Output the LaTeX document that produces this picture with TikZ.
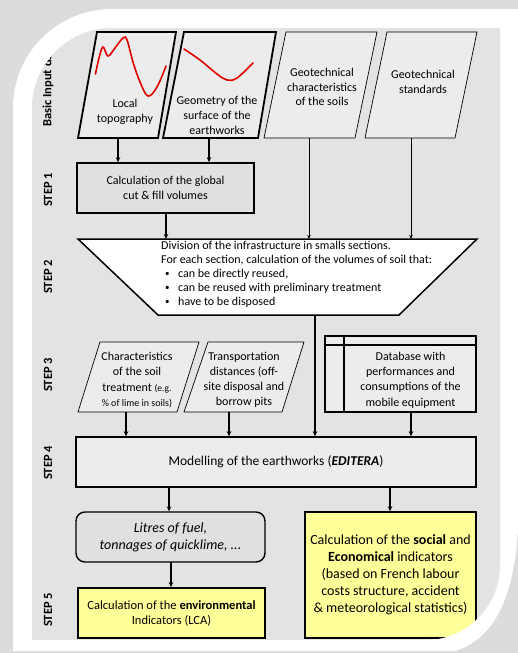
\documentclass[tikz,border=0pt]{standalone}
\usepackage{fontspec}
\usepackage{graphicx}
\setmainfont{Carlito}
\usetikzlibrary{arrows.meta}
\definecolor{outerbg}{HTML}{DCDCDC}
\definecolor{innerbg}{HTML}{E3E3E3}
\definecolor{boxfill}{HTML}{ECECEC}
\definecolor{boxdark}{HTML}{E0E0E0}
\definecolor{ylw}{HTML}{FFFF99}
\definecolor{redline}{HTML}{E00000}
\newcommand{\smallbul}{\hspace*{4pt}\makebox[13pt][l]{\raisebox{0.5pt}{\scalebox{0.75}{\textbullet}}}}
\begin{document}
\begin{tikzpicture}[x=1pt,y=-1pt,
  txt/.style={inner sep=0pt, align=center, font=\fontsize{12}{14.8}\selectfont},
  steplbl/.style={rotate=90, inner sep=0pt, font=\bfseries\fontsize{12.5}{14}\selectfont},
  thickbox/.style={draw=black, line width=1.7pt, inner sep=0pt, align=center},
  thinshape/.style={draw=black, line width=0.7pt},
  thickshape/.style={draw=black, line width=1.8pt},
  arr/.style={line width=1.4pt, -{Stealth[length=5pt,width=4.5pt]}},
  thinarr/.style={line width=0.6pt, -{Stealth[length=4pt,width=3.5pt]}},
  redcurve/.style={draw=redline, line width=1.6pt, line cap=round}]
\useasboundingbox (0,0) rectangle (518,653);
% frame
\fill[outerbg] (0,0) rectangle (518,653);
\fill[white] (13,108) .. controls (13,53.3) and (57.3,9) .. (112,9) -- (518,9) -- (518,530)
  .. controls (514,600) and (492,640) .. (455,651) -- (13,651) -- cycle;
\def\innerpath{(32,108) .. controls (32,63.8) and (67.8,28) .. (112,28) -- (500,28) -- (500,565)
  .. controls (500,606.4) and (466.4,640) .. (425,640) -- (32,640) -- cycle}
\fill[innerbg] \innerpath;
\begin{scope}
\clip \innerpath;
% step labels
\node[steplbl, anchor=west] (lbl0) at (48,127) {Basic Input data};
\node[steplbl] (lbl1) at (48,190) {STEP 1};
\node[steplbl] (lbl2) at (48,277) {STEP 2};
\node[steplbl] (lbl3) at (48,375) {STEP 3};
\node[steplbl] (lbl4) at (48,463) {STEP 4};
\node[steplbl] (lbl5) at (48,610) {STEP 5};
% basic input parallelograms
\filldraw[thickshape, fill=boxfill] (78,138) -- (158,138) -- (176,32) -- (97,32) -- cycle;
\filldraw[thickshape, fill=boxfill] (163,138) -- (258,138) -- (276,32) -- (184,32) -- cycle;
\filldraw[thinshape, fill=boxfill] (264,138) -- (355,138) -- (377,32) -- (286,32) -- cycle;
\filldraw[thinshape, fill=boxfill] (365,138) -- (455,138) -- (477,32) -- (387,32) -- cycle;
\draw[redcurve] plot[smooth, tension=0.6] coordinates {(95.5,74) (99,58) (103,47) (108,56) (115,48) (123,38) (127,40) (133,62) (140,82) (148,96) (157,87) (166,66)};
\draw[redcurve] plot[smooth, tension=0.6] coordinates {(184,49) (200,60) (217,74) (227,80) (237,78) (253,63)};
\node[txt] (p1t) at (125,112) {Local\\topography};
\node[txt] (p2t) at (217,115.5) {Geometry of the\\surface of the\\earthworks};
\node[txt] (p3t) at (322,87) {Geotechnical\\characteristics\\of the soils};
\node[txt] (p4t) at (423,82) {Geotechnical\\standards};
\coordinate (p1b) at (118,138);
\coordinate (p2b) at (209,138);
\coordinate (p3b) at (309,138);
\coordinate (p4b) at (411,138);
% step 1
\node[thickbox, fill=boxdark, minimum width=177pt, minimum height=50pt, font=\fontsize{12}{14.5}\selectfont] (s1) at (165.5,188) {Calculation of the global\\cut \& fill volumes};
\coordinate (s1b) at (166,213);
% step 2 trapezoid
\filldraw[draw=black, line width=1.5pt, fill=white] (78,239) -- (477,239) -- (399,315) -- (158,315) -- cycle;
\coordinate (t2t) at (0,239);
\coordinate (t2b) at (315,315);
\node[inner sep=0pt, anchor=north west, align=left, font=\fontsize{12}{14}\selectfont] (t2) at (161,240.5)
 {Division of the infrastructure in smalls sections.\\
  For each section, calculation of the volumes of soil that:\\
  \smallbul can be directly reused,\\
  \smallbul can be reused with preliminary treatment\\
  \smallbul have to be disposed};
% step 3
\filldraw[thinshape, fill=boxfill] (78,412) -- (177,412) -- (199,342) -- (100,342) -- cycle;
\filldraw[thinshape, fill=boxfill] (184,412) -- (282,412) -- (304,342) -- (208,342) -- cycle;
\node[txt, font=\fontsize{12}{15.2}\selectfont] (a3) at (137,380) {Characteristics\\of the soil\\treatment {\fontsize{9.5}{11}\selectfont(e.g.}\\{\fontsize{10}{12}\selectfont\% of lime in soils)}};
\node[txt, font=\fontsize{12}{15.2}\selectfont] (b3) at (244,380) {Transportation\\distances (off-\\site disposal and\\borrow pits};
\node[thickbox, fill=boxfill, minimum width=151pt, minimum height=76pt, line width=1.6pt] (db) at (400.5,374) {};
\draw[line width=1.4pt] (344,336) -- (344,412);
\draw[line width=1.4pt] (325,345) -- (476,345);
\node[txt, font=\fontsize{12}{15.2}\selectfont] (dbt) at (410.5,380) {Database with\\performances and\\consumptions of the\\mobile equipment};
\coordinate (a3b) at (126,412);
\coordinate (b3b) at (229,412);
\coordinate (dbb) at (411,412);
% step 4
\node[thickbox, fill=boxfill, minimum width=400pt, minimum height=50pt, line width=1.6pt, font=\fontsize{13.5}{16}\selectfont] (s4) at (276,462) {Modelling of the earthworks (\textbf{\textit{EDITERA}})};
\coordinate (s4l) at (169,487);
\coordinate (s4r) at (390,487);
% step 5
\node[thickbox, fill=boxdark, rounded corners=9pt, minimum width=189pt, minimum height=50pt, line width=1.4pt, font=\itshape\fontsize{14}{17}\selectfont] (lit) at (170.5,537) {Litres of fuel,\\tonnages of quicklime, ...};
\coordinate (litb) at (171,562);
\node[thickbox, fill=ylw, minimum width=187pt, minimum height=50pt, line width=1.6pt, font=\fontsize{12.5}{15}\selectfont] (env) at (171.5,613) {Calculation of the \textbf{environmental}\\Indicators (LCA)};
\node[thickbox, fill=ylw, minimum width=171pt, minimum height=126pt, line width=1.6pt, font=\fontsize{14}{17}\selectfont] (soc) at (390.5,575) {Calculation of the \textbf{social} and\\\textbf{Economical} indicators\\(based on French labour\\costs structure, accident\\\& meteorological statistics)};
% connectors
\draw[arr] (p1b) -- (p1b |- s1.north);
\draw[arr] (p2b) -- (p2b |- s1.north);
\draw[thinarr] (p3b) -- (p3b |- t2t);
\draw[thinarr] (p4b) -- (p4b |- t2t);
\draw[arr] (s1b) -- (s1b |- t2t);
\draw[arr] (t2b) -- (t2b |- s4.north);
\draw[arr] (a3b) -- (a3b |- s4.north);
\draw[arr] (b3b) -- (b3b |- s4.north);
\draw[arr] (dbb) -- (dbb |- s4.north);
\draw[arr] (s4l) -- (s4l |- lit.north);
\draw[arr] (s4r) -- (s4r |- soc.north);
\draw[arr] (litb) -- (litb |- env.north);
\end{scope}
\end{tikzpicture}
\end{document}
